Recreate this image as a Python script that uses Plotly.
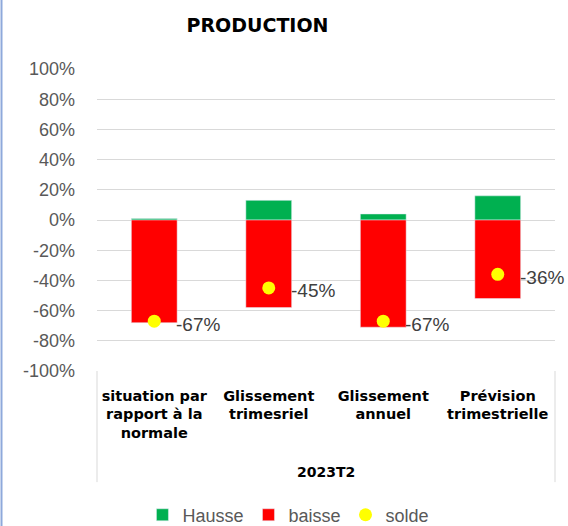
import plotly.graph_objects as go

categories = ["situation par<br>rapport à la<br>normale", "Glissement<br>trimesriel",
              "Glissement<br>annuel", "Prévision<br>trimestrielle"]
group_label = "2023T2"
hausse = [1, 13, 4, 16]
baisse = [-68, -58, -71, -52]
solde = [-67, -45, -67, -36]
tick_vals = [-100, -80, -60, -40, -20, 0, 20, 40, 60, 80, 100]
tick_text = [f"{v}%" for v in tick_vals]

x = list(range(len(categories)))

fig = go.Figure()
fig.add_trace(go.Bar(x=x, y=hausse, name="Hausse", marker_color="#00B050", width=0.4))
fig.add_trace(go.Bar(x=x, y=baisse, name="baisse", marker_color="#FF0000", width=0.4))
fig.add_trace(go.Scatter(x=x, y=solde, name="solde", mode="markers",
                         marker=dict(color="#FFFF00", size=13)))

for xi, v in zip(x, solde):
    fig.add_annotation(x=xi, y=v, text=f"{v}%", showarrow=False, xanchor="left",
                       xshift=20, yshift=-3,
                       font=dict(family="Liberation Sans, Arial", size=19, color="#404040"))

fig.add_annotation(x=0.5, y=-0.334, xref="paper", yref="paper", text=f"<b>{group_label}</b>",
                   showarrow=False, yanchor="middle",
                   font=dict(family="DejaVu Sans, Arial", size=14, color="black"))

# category box lines
for xp in [0, 1]:
    fig.add_shape(type="line", xref="paper", yref="paper", x0=xp, x1=xp, y0=0, y1=-0.368,
                  line=dict(color="#D9D9D9", width=1))
# left frame line
fig.add_shape(type="line", xref="paper", yref="paper", x0=-0.2085, x1=-0.2085, y0=-0.6, y1=1.3,
              line=dict(color="#8EA9DB", width=2))

fig.update_layout(
    width=568, height=526,
    margin=dict(l=97, r=13, t=69, b=155, autoexpand=False),
    paper_bgcolor="white", plot_bgcolor="white",
    barmode="relative",
    title=dict(text="<b>PRODUCTION</b>", x=257.5 / 568, xanchor="center", y=1 - 25 / 526,
               yanchor="middle",
               font=dict(family="DejaVu Sans, Arial", size=19, color="black")),
    xaxis=dict(tickmode="array", tickvals=x,
               ticktext=[f"<b>{c}</b>" for c in categories],
               range=[-0.5, 3.5], showgrid=False, ticks="", showline=False, zeroline=False,
               tickfont=dict(family="DejaVu Sans, Arial", size=14.5, color="black"),
               ticklabelstandoff=14, automargin=False),
    yaxis=dict(range=[-100, 100], tickmode="array", tickvals=tick_vals, ticktext=tick_text,
               showgrid=True, gridcolor="#D9D9D9", gridwidth=1,
               zeroline=True, zerolinecolor="#D9D9D9", zerolinewidth=1,
               tickfont=dict(family="Liberation Sans, Arial", size=18, color="#595959"),
               ticklabelstandoff=21, automargin=False),
    legend=dict(orientation="h", x=0.418, xanchor="center", y=-0.477, yanchor="middle",
                font=dict(family="Liberation Sans, Arial", size=18, color="#595959"),
                itemwidth=30, traceorder="normal"),
)

fig.write_html("out.html", config={"displayModeBar": False},
               post_script="document.body.style.margin='0';document.body.style.overflow='hidden';")
